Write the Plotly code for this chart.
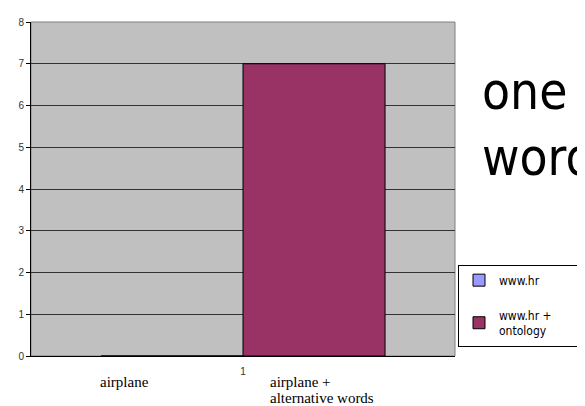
import plotly.graph_objects as go

categories = ["1"]
series_names = ["www.hr", "www.hr +\u00a0\u00a0\u00a0\u00a0\u00a0\u00a0\u00a0\u00a0<br>ontology"]
series_values = [[0], [7]]
series_colors = ["#9999FF", "#993366"]
y_ticks = [0, 1, 2, 3, 4, 5, 6, 7, 8]
x_label_left = "airplane"
x_label_right = ["airplane +", "alternative words"]
title_text = "one<br>word"

fig = go.Figure()
for i, (name, vals, col) in enumerate(zip(series_names, series_values, series_colors)):
    fig.add_trace(go.Bar(
        x=categories, y=vals, name=name, legendgroup=f"g{i}",
        marker=dict(color=col, line=dict(color="black", width=1)),
    ))

OFF = 8  # page body margin offset
W, H = 585, 406
# reference plot area: x 31..455, y 16..356
L, T = 31 - OFF, 16 - OFF
R, B = W - (455 - OFF), H - (356 - OFF)
pw, ph = W - L - R, H - T - B

def px_x(p):
    return (p - OFF - L) / pw

def px_y(p):
    return (H - B - (p - OFF)) / ph

serif = dict(family="Liberation Serif, Times New Roman", size=15, color="black")

fig.update_layout(
    width=W, height=H,
    margin=dict(l=L, r=R, t=T, b=B),
    barmode="group", bargap=0.33, bargroupgap=0,
    plot_bgcolor="#C0C0C0", paper_bgcolor="white",
    showlegend=True,
    legend=dict(
        x=px_x(458), y=px_y(263), xanchor="left", yanchor="top",
        bgcolor="white", bordercolor="black", borderwidth=1,
        font=dict(family="DejaVu Sans Condensed, Open Sans, sans-serif", size=12, color="black"),
        traceorder="grouped", tracegroupgap=16, itemwidth=30,
    ),
    xaxis=dict(
        showgrid=False, showline=True, linecolor="black", linewidth=1,
        ticks="", tickfont=dict(family="Liberation Sans, Arial", size=10, color="#333"),
        ticklabelstandoff=6,
    ),
    yaxis=dict(
        range=[0, 8], tickvals=y_ticks, showgrid=True, gridcolor="#333333", gridwidth=1,
        showline=True, linecolor="black", linewidth=1,
        ticks="outside", ticklen=4, tickcolor="black",
        tickfont=dict(family="Liberation Sans, Arial", size=10, color="#333"),
        zeroline=False,
    ),
    shapes=[dict(type="rect", xref="paper", yref="paper", x0=0, x1=1, y0=0, y1=1,
                 line=dict(color="#808080", width=1), layer="below")],
    annotations=[
        dict(text=x_label_left, xref="paper", yref="paper", x=px_x(98), y=px_y(382),
             xanchor="left", yanchor="middle", showarrow=False, align="left", font=serif),
        dict(text=x_label_right[0], xref="paper", yref="paper", x=px_x(268), y=px_y(382),
             xanchor="left", yanchor="middle", showarrow=False, align="left", font=serif),
        dict(text=x_label_right[1], xref="paper", yref="paper", x=px_x(268), y=px_y(399),
             xanchor="left", yanchor="middle", showarrow=False, align="left", font=serif),
        dict(text=title_text, xref="paper", yref="paper", x=px_x(480), y=px_y(120),
             xanchor="left", yanchor="middle", showarrow=False, align="left",
             font=dict(family="DejaVu Sans Condensed, Open Sans, sans-serif", size=51, color="black")),
    ],
)

fig.write_html("out.html")
